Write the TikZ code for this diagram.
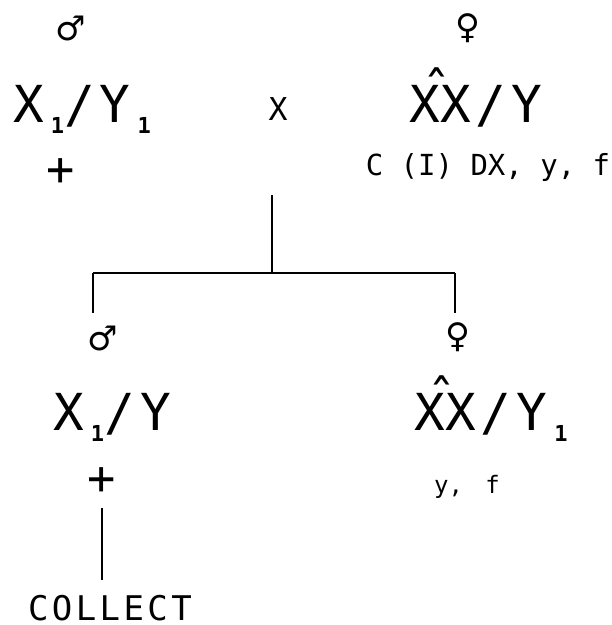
\documentclass[tikz,border=0pt]{standalone}
\usepackage{fontspec}
\setmonofont{DejaVu Sans Mono}
\newfontfamily\plotfont[LetterSpace=10]{DejaVu Sans Mono}
\newfontfamily\symfont{DejaVu Sans}
\newcommand\sub[1]{\hspace{7pt}\raisebox{-11pt}{\fontsize{22}{22}\selectfont\bfseries #1}}
\newcommand\hatmark{\makebox[0pt][c]{\hspace{-6pt}\raisebox{14pt}{\char"02C6}}}

\begin{document}
\begin{tikzpicture}[x = 1pt, y = -1pt, line width = 2.8pt,
  sex/.style = {font = \symfont\fontsize{34}{34}\selectfont, inner sep = 0pt},
  geno/.style = {font = \plotfont\fontsize{51}{51}\selectfont, anchor = base, inner sep = 0pt},
  pheno/.style = {font = \ttfamily\fontsize{29}{29}\selectfont, anchor = base, inner sep = 0pt},
  plus/.style = {font = \ttfamily\fontsize{47}{47}\selectfont, inner sep = 0pt}]
\useasboundingbox (0,0) rectangle (612,625);
\node[sex] (fsym) at (71,28) {♂};
\node[sex] (msym) at (468,28) {♀};
\node[geno] (fgeno) at (82,122) {X\sub{1}/Y\sub{1}};
\node[geno, font = \plotfont\fontsize{31.5}{31.5}\selectfont] (cross) at (278,120) {X};
\node[geno] (mgeno) at (476,122) {X\hatmark X/Y};
\node[pheno] (mpheno) at (488,175) {C (I) DX, y, f};
\node[plus] (fplus) at (61,172) {+};
\coordinate (mate) at (272,195);
\coordinate (jn) at (272,273);
\coordinate (jl) at (93,273);
\coordinate (jr) at (455,273);
\coordinate (dl) at (93,313);
\coordinate (dr) at (455,313);
\draw (mate) -- (jn);
\draw (jl) -- (jr);
\draw (jl) -- (dl);
\draw (jr) -- (dr);
\node[sex] (ssym) at (103,338) {♂};
\node[sex] (dsym) at (458,337) {♀};
\node[geno] (sgeno) at (112,430) {X\sub{1}/Y};
\node[geno] (dgeno) at (491,430) {X\hatmark X/Y\sub{1}};
\node[pheno, font = \ttfamily\fontsize{24}{24}\selectfont] (dpheno) at (467,493) {y,\hspace{8pt} f};
\node[plus] (splus) at (102,481) {+};
\node[geno, font = \plotfont\fontsize{34}{34}\selectfont] (collect) at (110,620) {COLLECT};
\draw[shorten <= 12pt, shorten >= 13pt] (splus.south) -- (splus.south |- collect.north);
\end{tikzpicture}
\end{document}
